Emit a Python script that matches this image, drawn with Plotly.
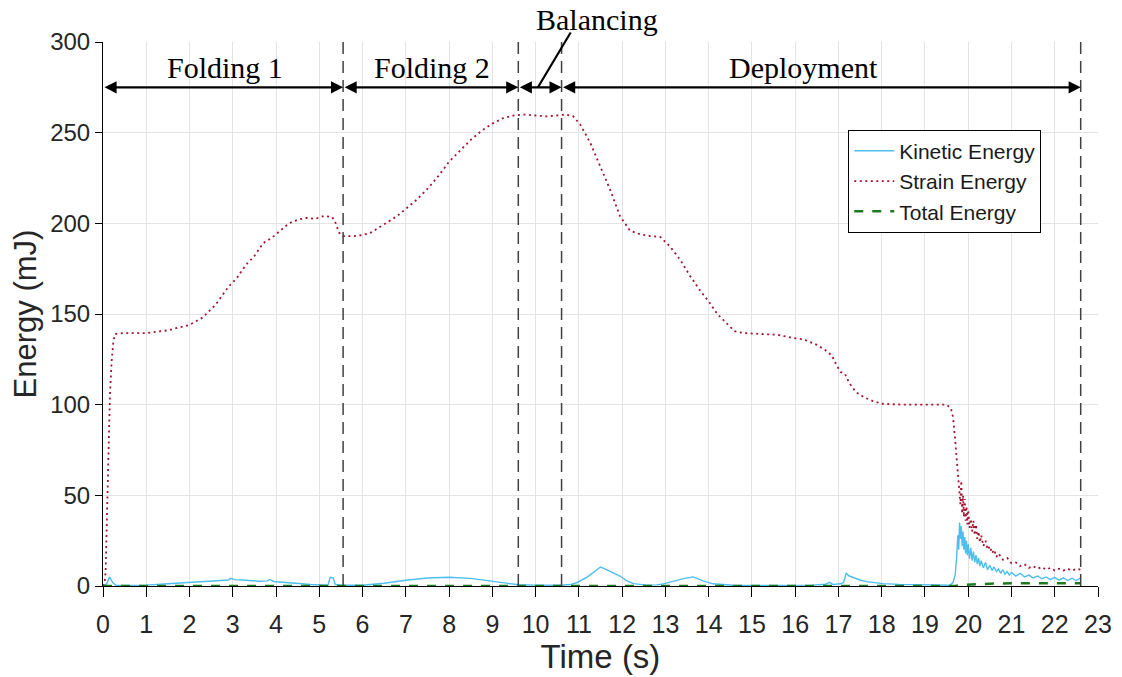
import plotly.graph_objects as go

# Strain energy (mJ) over time (s)
strain_t = [0.00, 0.04, 0.06, 0.08, 0.10, 0.13, 0.16, 0.20, 0.24, 0.28, 0.5, 1.0, 1.5, 2.0, 2.3, 2.6,
            2.9, 3.1, 3.3, 3.5, 3.7, 3.9, 4.1, 4.3, 4.5, 4.7, 4.9, 5.1, 5.3, 5.38, 5.45, 5.55, 5.8,
            6.0, 6.2, 6.4, 6.6, 6.8, 7.0, 7.25, 7.5, 7.75, 8.0, 8.25, 8.5, 8.75, 9.0, 9.25, 9.5,
            9.75, 10.0, 10.25, 10.5, 10.7, 10.87, 11.03, 11.26, 11.5, 11.72, 11.95, 12.18, 12.41,
            12.65, 12.88, 13.1, 13.34, 13.57, 13.8, 14.0, 14.2, 14.4, 14.6, 14.8, 15.2, 15.6, 15.9,
            16.2, 16.5, 16.7, 16.85, 16.95, 17.05, 17.15, 17.25, 17.4, 17.6, 17.8, 18.0, 18.5, 19.0,
            19.5, 19.6, 19.65, 19.7, 19.73, 19.76, 19.79, 19.82, 19.84, 19.86, 19.88, 19.90, 19.92,
            19.94, 19.96, 19.98, 20.0, 20.03, 20.06, 20.09, 20.12, 20.15, 20.18, 20.21, 20.24, 20.27,
            20.30, 20.35, 20.4, 20.45, 20.5, 20.55, 20.6, 20.65, 20.7, 20.8, 20.9, 21.0, 21.1, 21.2,
            21.3, 21.4, 21.5, 21.6, 21.7, 21.8, 21.9, 22.0, 22.1, 22.2, 22.3, 22.4, 22.5, 22.6]
strain_e = [0, 2, 8, 25, 50, 80, 105, 124, 135, 139, 139.5, 139.5, 141, 144, 148, 155,
            165, 170, 177, 182, 189, 192, 196, 200, 202, 203, 202.5, 204, 203.5, 200, 195, 193, 193,
            193.5, 195, 198, 201, 204, 208, 213, 219, 226, 234, 240, 246, 251, 255, 258, 259.5,
            260, 259.5, 259, 259.5, 260, 259, 254.5, 244.6, 231.6, 218.7, 204, 196, 194,
            193, 192.5, 187.4, 180, 171, 163, 157, 150, 145, 140.5, 139.5, 139, 138.5, 137,
            136, 133, 130, 127, 122, 118, 117, 112, 107, 104, 102, 100.5, 100, 100,
            100, 98, 93, 80, 70, 60, 55, 45, 58, 40, 50, 38, 48,
            36, 44, 34, 42, 32, 37, 30, 36, 28, 34, 26, 30, 24,
            28, 22, 25, 20, 22, 18, 20, 16, 18, 14.5, 15.5, 12.5, 13, 11,
            12, 10, 11, 9.5, 10.5, 9, 10, 8.5, 9.5, 8.5, 9.5, 8.5, 9.5, 9]

# Kinetic energy (mJ) over time (s)
kinetic_t = [0, 0.08, 0.15, 0.22, 0.3, 0.6, 1.0, 1.5, 2.0, 2.5, 2.9, 2.95, 3.05, 3.3, 3.6, 3.8,
             3.85, 3.95, 4.3, 4.8, 5.2, 5.25, 5.32, 5.37, 5.5, 6.0, 6.5, 7.0, 7.5, 8.0, 8.5, 9.0,
             9.4, 9.6, 10.0, 10.6, 10.8, 10.95, 11.2, 11.4, 11.5, 11.6, 11.79, 11.95, 12.1, 12.26,
             12.57, 12.8, 12.95, 13.1, 13.26, 13.45, 13.64, 13.75, 13.87, 14.1, 14.57, 15.0, 15.5,
             16.0, 16.4, 16.7, 16.8, 16.88, 17.05, 17.12, 17.18, 17.25, 17.35, 17.5, 17.65, 17.85,
             18.03, 18.4, 18.8, 19.2, 19.58, 19.65, 19.7, 19.73, 19.76, 19.78, 19.8, 19.82, 19.84,
             19.86, 19.88, 19.9, 19.92, 19.94, 19.96, 19.98, 20.0, 20.03, 20.06, 20.09, 20.12,
             20.15, 20.18, 20.21, 20.24, 20.27, 20.3, 20.35, 20.4, 20.45, 20.5, 20.55, 20.6, 20.65,
             20.7, 20.75, 20.8, 20.85, 20.9, 20.95, 21.0, 21.1, 21.2, 21.3, 21.4, 21.5, 21.6, 21.7,
             21.8, 21.9, 22.0, 22.1, 22.2, 22.3, 22.4, 22.5, 22.6]
kinetic_e = [0, 1, 5, 2, 0.3, 0.3, 0.5, 1.2, 2, 2.8, 3.3, 4.2, 3.5, 3.2, 2.6, 2.8,
             3.6, 2.5, 1.7, 0.8, 0.4, 4.8, 4.5, 0.8, 0.4, 0.4, 1.5, 3.2, 4.4, 4.8, 4.2, 2.7,
             1.2, 0.7, 0.5, 0.4, 0.8, 1.8, 5, 8.5, 10.5, 9.5, 7.4, 5.5, 3, 1.3,
             0.5, 0.6, 1.2, 2.2, 3.1, 4.2, 5, 4, 2.8, 1.2, 0.4, 0.3, 0.3,
             0.4, 0.5, 1, 2, 0.8, 1.2, 2, 7, 5.5, 4.6, 3.3, 2.4, 1.8,
             1.3, 0.9, 0.6, 0.5, 0.4, 2, 6.4, 15, 28, 20, 35, 26, 33,
             22, 30, 20, 27, 18, 25, 17, 23, 15, 21, 14, 19,
             13, 17, 12, 15.5, 11, 14, 10, 13, 9, 11.5, 8.5, 10.5, 8,
             9.5, 7, 9, 6.5, 8, 6, 7.5, 5.5, 7, 5, 6, 4.5, 5.5, 4,
             5, 3.5, 4.8, 3.2, 4.5, 3, 4.3, 3, 4.5]

# Total energy (mJ) over time (s)
total_t = [0, 19.7, 19.8, 20.2, 20.5, 21.0, 22.6]
total_e = [0, 0, 0.5, 1.0, 1.3, 1.5, 1.5]

# Phase boundaries (s) and phase names
phase_bounds = [0, 5.55, 9.6, 10.6, 22.6]
phase_names = ["Folding 1", "Folding 2", "Balancing", "Deployment"]
x_ticks = list(range(0, 24))
y_ticks = [0, 50, 100, 150, 200, 250, 300]

SANS = "Liberation Sans, Arial, sans-serif"
SERIF = "Liberation Serif, Times New Roman, serif"

fig = go.Figure()
fig.add_trace(go.Scatter(x=kinetic_t, y=kinetic_e, mode="lines", name="Kinetic Energy",
                         line=dict(color="#4DBEEE", width=1.4)))
fig.add_trace(go.Scatter(x=strain_t, y=strain_e, mode="lines", name="Strain Energy",
                         line=dict(color="#A2142F", width=1.8, dash="2px,3.5px")))
fig.add_trace(go.Scatter(x=total_t, y=total_e, mode="lines", name="Total Energy",
                         line=dict(color="#1E7A1E", width=2.5, dash="dash")))

# Vertical dashed lines at the phase boundaries
for b in phase_bounds[1:]:
    fig.add_shape(type="line", xref="x", yref="y", x0=b, x1=b, y0=0, y1=300,
                  line=dict(color="#404040", width=1.5, dash="12px,7px"), layer="above")

# Double-headed arrows spanning each phase
arrow_y = 275
for a, b in zip(phase_bounds[:-1], phase_bounds[1:]):
    fig.add_annotation(x=b, y=arrow_y, ax=a, ay=arrow_y, xref="x", yref="y", axref="x", ayref="y",
                       text="", showarrow=True, arrowhead=2, arrowside="end+start",
                       arrowsize=1.1, arrowwidth=2.2, arrowcolor="black", standoff=0, startstandoff=0)

# Phase labels
label_pos = {"Folding 1": 2.82, "Folding 2": 7.6, "Deployment": 16.2}
for name in phase_names:
    if name in label_pos:
        fig.add_annotation(x=label_pos[name], y=286, xref="x", yref="y", text=name, showarrow=False,
                           yanchor="middle", font=dict(family=SERIF, size=30, color="black"))

fig.add_annotation(x=11.42, y=1.041, xref="x", yref="paper", text="Balancing", showarrow=False,
                   yanchor="middle", font=dict(family=SERIF, size=30, color="black"))
fig.add_shape(type="line", xref="paper", yref="paper", x0=0.437, y0=0.9164, x1=0.470, y1=1.0175,
              line=dict(color="black", width=2.2))

fig.update_layout(
    width=1122, height=677,
    margin=dict(l=103, r=24, t=42, b=91),
    paper_bgcolor="white", plot_bgcolor="white",
    showlegend=True,
    legend=dict(x=0.749, y=0.839, xanchor="left", yanchor="top",
                bordercolor="black", borderwidth=1, bgcolor="white",
                font=dict(family=SANS, size=21, color="#1a1a1a"),
                itemwidth=40, tracegroupgap=0),
    font=dict(family=SANS),
)
fig.update_xaxes(range=[0, 23], tickvals=x_ticks, ticktext=[str(v) for v in x_ticks],
                 automargin=False,
                 showgrid=True, gridcolor="#e3e3e3", gridwidth=1,
                 showline=True, linecolor="black", linewidth=1,
                 ticks="outside", ticklen=10, tickcolor="black",
                 ticklabelstandoff=6,
                 tickfont=dict(family=SANS, size=25, color="#262626"),
                 title=dict(text="Time (s)", font=dict(family=SANS, size=33, color="#262626"), standoff=6),
                 zeroline=False)
fig.update_yaxes(range=[0, 300], tickvals=y_ticks,
                 automargin=False,
                 showgrid=True, gridcolor="#e3e3e3", gridwidth=1,
                 showline=True, linecolor="black", linewidth=1,
                 ticks="outside", ticklen=7, tickcolor="black",
                 tickfont=dict(family=SANS, size=24, color="#262626"),
                 title=dict(text="Energy (mJ)", font=dict(family=SANS, size=31, color="#262626"), standoff=4),
                 zeroline=False)

fig.write_html("out.html")
